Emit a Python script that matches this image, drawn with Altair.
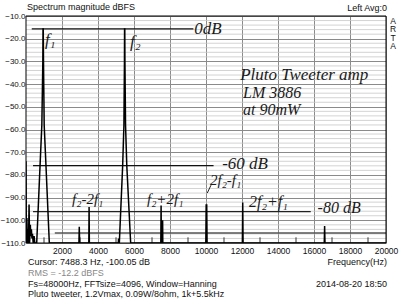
import altair as alt
import pandas as pd

# ---- data ----
freq = [0, 20, 50, 80, 110, 140, 170, 200, 240, 270, 300, 330, 360, 400, 450, 490,
        595, 780, 880, 935, 945, 958, 972, 1010, 1110, 1295,
        2940, 2960, 2980, 3490, 3505, 3520,
        5130, 5140, 5150, 5185, 5370, 5440, 5470, 5476, 5488, 5496, 5530, 5600, 5815,
        7490, 7505, 7520, 7580, 7590, 7600,
        9990, 10010, 10040, 10060, 12020, 12040, 12060, 16570, 16590, 16610, 20000]
mag = [-74, -110, -99, -110, -104, -110, -93, -110, -102, -107, -104, -108, -106, -110, -107, -110,
       -110, -76, -58, -30, -15.7, -15.7, -30, -58, -76, -110,
       -110, -102.8, -110, -110, -94.1, -110,
       -110, -108, -110, -110, -76, -58, -30, -15.7, -15.7, -30, -58, -76, -110,
       -110, -93.5, -110, -110, -100, -110,
       -110, -93.3, -93.3, -110, -110, -92.2, -110, -110, -102.5, -110, -110]

x_ticks = [2000, 4000, 6000, 8000, 10000, 12000, 14000, 16000, 18000, 20000]
y_ticks = [-10, -20, -30, -40, -50, -60, -70, -80, -90, -100, -110]
minor_grid = [v for v in range(-108, -10, 2) if v % 10 != 0]
minor_xticks = [1000, 3000, 5000, 7000, 9000, 11000, 13000, 15000, 17000, 19000]

# hand-drawn reference lines (start Hz, end Hz, dB)
hand_x1 = [320, 390, 390, 1600]
hand_x2 = [9300, 10420, 15820, 20000]
hand_y = [-15.7, -75.9, -96.2, -105.6]
hand_col = ["#111111", "#111111", "#222222", "#555555"]

# hand-written notes (text, Hz, dB)
note_text = ["f₁", "f₂", "0dB", "Pluto Tweeter amp", "LM 3886", "at 90mW",
             "-60 dB", "-80 dB", "f₂-2f₁", "f₂+2f₁", "2f₂-f₁", "2f₂+f₁"]
note_x = [1050, 5780, 9350, 11900, 12060, 12060, 10900, 16200, 2560, 6720, 10220, 12390]
note_y = [-20.6, -21.5, -15.9, -36, -43.9, -51.4, -75.4, -94.8, -90.6, -90.6, -82.2, -91.9]
note_size = [17, 17, 17, 17, 16, 16, 17, 16, 15, 15, 15, 16]

W, H = 360, 227
xs = alt.Scale(domain=[0, 20000], nice=False, zero=False)
ys = alt.Scale(domain=[-110, -10], nice=False, zero=False)

spec = pd.DataFrame({"f": freq, "db": mag, "i": list(range(len(freq)))})

axis_common = dict(title=None, grid=True, gridColor="#8a8a8a", gridWidth=1, ticks=False,
                   labelColor="#111", labelFont="Liberation Sans",
                   domain=False, labelOverlap=False, labelBound=False, labelFlush=False)
AX = alt.Axis(values=x_ticks, format="d", labelPadding=3, labelFontSize=8.5, **axis_common)
AY = alt.Axis(values=y_ticks, format=".1f", labelPadding=1, labelFontSize=8, **axis_common)


def X(field):
    return alt.X(field, scale=xs, axis=AX)


def Y(field):
    return alt.Y(field, scale=ys, axis=AY)


minor = alt.Chart(pd.DataFrame({"db": minor_grid})).mark_rule(color="#c8c8c8", strokeWidth=0.8).encode(
    y=Y("db:Q")
)

mticks = alt.Chart(pd.DataFrame({"f": minor_xticks, "y1": [-110] * 10, "y2": [-107.5] * 10})).mark_rule(
    color="#333", strokeWidth=1).encode(
    x=X("f:Q"), y=Y("y1:Q"), y2="y2:Q"
)

hand = alt.Chart(pd.DataFrame({"x1": hand_x1, "x2": hand_x2, "y": hand_y, "c": hand_col})).mark_rule(
    strokeWidth=1.3).encode(
    x=X("x1:Q"), x2="x2:Q", y=Y("y:Q"),
    color=alt.Color("c:N", scale=None)
)

slash = alt.Chart(pd.DataFrame({"x1": [10070], "x2": [10280], "y1": [-88], "y2": [-84.5]})).mark_rule(
    strokeWidth=1, color="#222").encode(
    x=X("x1:Q"), x2="x2:Q", y=Y("y1:Q"), y2="y2:Q"
)

line = alt.Chart(spec).mark_line(color="black", strokeWidth=1.5, clip=True).encode(
    x=X("f:Q"), y=Y("db:Q"), order="i:Q"
)

notes = alt.Chart(pd.DataFrame({"t": note_text, "f": note_x, "db": note_y, "s": note_size})).mark_text(
    align="left", baseline="middle", font="Liberation Serif", fontStyle="italic", color="#1a1a1a").encode(
    x=X("f:Q"), y=Y("db:Q"), text="t:N",
    size=alt.Size("s:Q", scale=None, legend=None)
)

border = alt.Chart(pd.DataFrame({"a": [0]})).mark_rect(fill=None, stroke="black", strokeWidth=1).encode(
    x=alt.value(0), x2=alt.value(W), y=alt.value(0), y2=alt.value(H)
)

# texts around the frame (pixel positions relative to the plot area)
lab_t = ["Spectrum magnitude dBFS", "Cursor:  7488.3 Hz, -100.05 dB", "RMS =  -12.2 dBFS",
         "Fs=48000Hz, FFTsize=4096, Window=Hanning", "Pluto tweeter, 1.2Vmax, 0.09W/8ohm, 1k+5.5kHz"]
lab_x = [1, 2, 2, 2, 2]
lab_y = [-9, 246, 257, 268, 278]
lab_c = ["#111", "#111", "#888", "#111", "#111"]
labels_left = alt.Chart(pd.DataFrame({"t": lab_t, "x": lab_x, "y": lab_y, "c": lab_c})).mark_text(
    align="left", baseline="middle", font="Liberation Sans", fontSize=9).encode(
    x=alt.X("x:Q", scale=None, axis=None), y=alt.Y("y:Q", scale=None, axis=None), text="t:N",
    color=alt.Color("c:N", scale=None)
)

rt = ["Left  Avg:0", "Frequency(Hz)", "2014-08-20  18:50"]
rx = [361, 361, 361]
ry = [-8, 246, 268]
labels_right = alt.Chart(pd.DataFrame({"t": rt, "x": rx, "y": ry})).mark_text(
    align="right", baseline="middle", font="Liberation Sans", fontSize=9, color="#111").encode(
    x=alt.X("x:Q", scale=None, axis=None), y=alt.Y("y:Q", scale=None, axis=None), text="t:N"
)

arta = alt.Chart(pd.DataFrame({"t": ["A", "R", "T", "A"], "x": [367] * 4, "y": [4.5, 13, 21.5, 30]})).mark_text(
    align="center", baseline="middle", font="Liberation Sans", fontSize=8.5, color="#111").encode(
    x=alt.X("x:Q", scale=None, axis=None), y=alt.Y("y:Q", scale=None, axis=None), text="t:N"
)

plot = alt.layer(minor, mticks, hand, slash, line, notes)

chart = alt.layer(plot, border, labels_left, labels_right, arta).resolve_scale(
    x="independent", y="independent").properties(
    width=W, height=H,
    autosize=alt.AutoSizeParams(type="none"),
    padding={"left": 26, "top": 16, "right": 14, "bottom": 57},
    background="white",
).configure_view(stroke=None)

chart.save("out.html", embed_options={"renderer": "svg", "actions": False})
